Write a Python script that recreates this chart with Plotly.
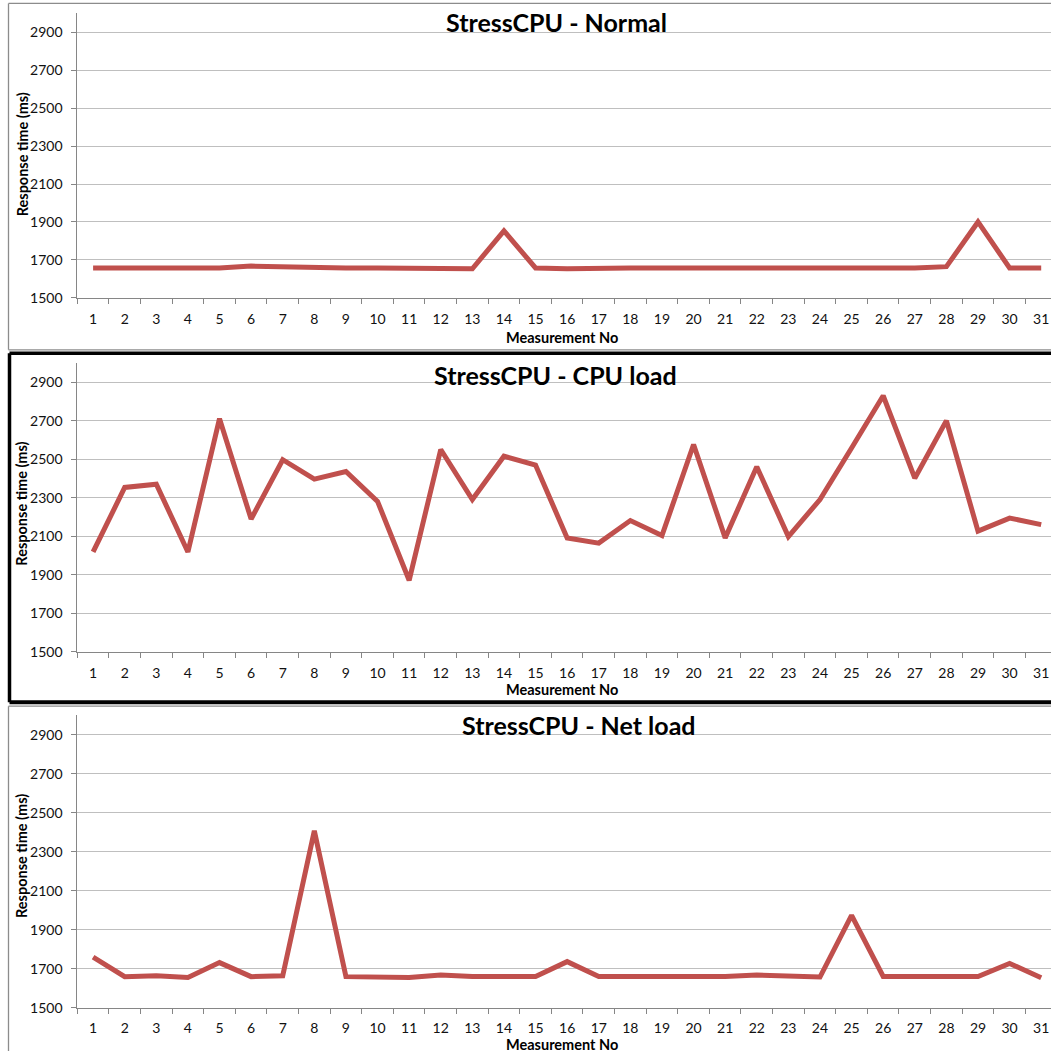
import plotly.graph_objects as go

W, H = 1051, 1059

measurements = [str(i) for i in range(1, 32)]

normal_ms = [1657, 1657, 1657, 1657, 1657, 1667, 1662, 1657, 1657, 1657, 1657, 1653, 1653,
             1853, 1657, 1653, 1657, 1657, 1657, 1657, 1657, 1657, 1657, 1657, 1662, 1657,
             1657, 1664, 1900, 1657, 1657]

cpu_load_ms = [2018, 2353, 2370, 2018, 2710, 2189, 2497, 2396, 2436, 2281, 1871, 2550, 2290,
               2515, 2469, 2091, 2064, 2181, 2103, 2576, 2091, 2460, 2098, 2290, 2558, 2829,
               2401, 2700, 2126, 2194, 2160]

net_load_ms = [1759, 1659, 1663, 1655, 1731, 1659, 1663, 2407, 1659, 1660, 1655, 1668, 1660,
               1660, 1660, 1736, 1660, 1660, 1660, 1663, 1660, 1667, 1663, 1657, 1973, 1660,
               1660, 1660, 1660, 1727, 1653]

titles = ["StressCPU - Normal", "StressCPU - CPU load", "StressCPU - Net load"]
series = [normal_ms, cpu_load_ms, net_load_ms]
y_title = "Response time (ms)"
x_title = "Measurement No"

FONT = "Lato, 'Open Sans', sans-serif"
LINE_RED = "#C0504D"
AXIS_GRAY = "#868686"
GRID_GRAY = "#BFBFBF"
FRAME_GRAY = "#8c8c8c"


def py(p):
    return 1 - p / H


def px(p):
    return p / W


# plot-area pixel extents (top, bottom) for each panel
panels = [
    dict(top=13.6, bottom=300.0, title_y=22, title_x=556, ytitle_y=155.5, xtitle_y=340),
    dict(top=365.6, bottom=656.7, title_y=378, title_x=555, ytitle_y=507.5, xtitle_y=695),
    dict(top=720.7, bottom=1015.3, title_y=731, title_x=579, ytitle_y=862.5, xtitle_y=1052),
]
x_left = 77.3

fig = go.Figure()
annotations = []
shapes = []

for i, (p, vals, title) in enumerate(zip(panels, series, titles)):
    xa = "x" if i == 0 else f"x{i+1}"
    ya = "y" if i == 0 else f"y{i+1}"
    fig.add_trace(go.Scatter(
        x=measurements, y=vals, mode="lines",
        line=dict(color=LINE_RED, width=5),
        xaxis=xa, yaxis=ya, showlegend=False, hoverinfo="x+y",
    ))
    xkey = "xaxis" if i == 0 else f"xaxis{i+1}"
    ykey = "yaxis" if i == 0 else f"yaxis{i+1}"
    fig.update_layout({
        xkey: dict(
            domain=[px(x_left), 1.0],
            anchor=ya,
            type="category",
            range=[-0.5, 30.31],
            tickson="boundaries",
            ticks="outside", ticklen=5, tickcolor=AXIS_GRAY,
            showgrid=False, showline=True, linecolor=AXIS_GRAY, linewidth=1,
            tickfont=dict(family=FONT, size=14, color="#111"),
            ticklabelstandoff=8,
            fixedrange=True,
        ),
        ykey: dict(
            domain=[py(p["bottom"]), py(p["top"])],
            anchor=xa,
            range=[1500, 3000],
            tick0=1500, dtick=200,
            ticks="outside", ticklen=5, tickcolor=AXIS_GRAY,
            showgrid=True, gridcolor=GRID_GRAY, gridwidth=1,
            showline=True, linecolor=AXIS_GRAY, linewidth=1,
            zeroline=False,
            tickfont=dict(family=FONT, size=14, color="#111"),
            ticklabelstandoff=6,
            fixedrange=True,
        ),
    })
    annotations.append(dict(
        text=f"<b>{title}</b>", x=px(p["title_x"]), y=py(p["title_y"]),
        xref="paper", yref="paper", xanchor="center", yanchor="middle",
        showarrow=False, font=dict(family=FONT, size=25, color="#000"),
    ))
    annotations.append(dict(
        text=f"<b>{y_title}</b>", x=px(22), y=py(p["ytitle_y"]),
        xref="paper", yref="paper", xanchor="center", yanchor="middle",
        textangle=-90, showarrow=False,
        font=dict(family=FONT, size=14.5, color="#000"),
    ))
    annotations.append(dict(
        text=f"<b>{x_title}</b>", x=px(562), y=py(p["xtitle_y"]),
        xref="paper", yref="paper", xanchor="center", yanchor="middle",
        showarrow=False, borderpad=0,
        font=dict(family=FONT, size=14.5, color="#000"),
    ))


def hline(y, x0, color, width):
    return dict(type="line", xref="paper", yref="paper",
                x0=px(x0), x1=1.0, y0=py(y), y1=py(y),
                line=dict(color=color, width=width), layer="below")


def vline(x, y0, y1, color, width):
    return dict(type="line", xref="paper", yref="paper",
                x0=px(x), x1=px(x), y0=py(y0), y1=py(y1),
                line=dict(color=color, width=width), layer="below")


# chart frames (left / top / bottom edges; right edges are beyond the view)
shapes += [
    hline(3.5, 8.5, FRAME_GRAY, 1.3),
    hline(352.5, 8.5, FRAME_GRAY, 1.3),
    vline(8.5, 3.5, 352.5, FRAME_GRAY, 1.3),
    hline(356, 9.5, "#000", 3.5),
    hline(707.5, 9.5, "#000", 4),
    vline(9.5, 356, 707.5, "#000", 3.5),
    hline(711.5, 8.5, FRAME_GRAY, 1.3),
    vline(8.5, 711.5, H, FRAME_GRAY, 1.3),
]

fig.update_layout(
    width=W, height=H,
    margin=dict(l=0, r=0, t=0, b=0),
    paper_bgcolor="white", plot_bgcolor="white",
    annotations=annotations, shapes=shapes,
    font=dict(family=FONT),
)

fig.write_html(
    "out.html",
    config={"displayModeBar": False},
    post_script="document.body.style.margin='0';document.body.style.overflow='hidden';",
)
